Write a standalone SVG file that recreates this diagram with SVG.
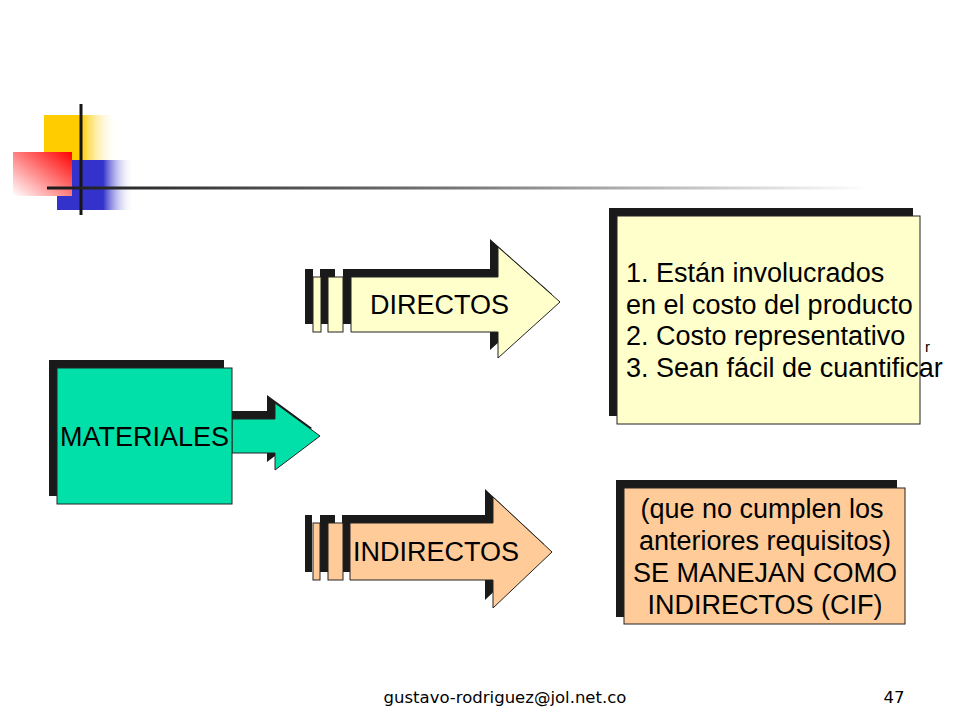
<svg xmlns="http://www.w3.org/2000/svg" width="960" height="720" viewBox="0 0 960 720">
<defs>
<linearGradient id="gYellow" x1="0" y1="0" x2="1" y2="0">
<stop offset="0" stop-color="#FFCC00"/><stop offset="0.5" stop-color="#FFCC00"/><stop offset="1" stop-color="#FFFFFF" stop-opacity="0"/>
</linearGradient>
<linearGradient id="gBlue" x1="0" y1="0" x2="1" y2="0">
<stop offset="0" stop-color="#3333CC"/><stop offset="0.6" stop-color="#3333CC"/><stop offset="1" stop-color="#FFFFFF" stop-opacity="0"/>
</linearGradient>
<linearGradient id="gRed" x1="1" y1="0" x2="0" y2="1">
<stop offset="0" stop-color="#FF0000"/><stop offset="1" stop-color="#FFFFFF"/>
</linearGradient>
<linearGradient id="gLine" x1="0" y1="0" x2="1" y2="0">
<stop offset="0" stop-color="#1A1A1A"/><stop offset="0.5" stop-color="#777777"/><stop offset="1" stop-color="#FFFFFF"/>
</linearGradient>
</defs>
<style>
.sh{fill:#1A1A1A;stroke:none}
.ln{stroke:#222;stroke-width:1}
.t{font-family:"Liberation Sans",Arial,sans-serif;font-size:27px;fill:#000}
.ft{font-family:"DejaVu Sans",Tahoma,sans-serif;font-size:16.5px;fill:#000}
</style>
<rect width="960" height="720" fill="#FFFFFF"/>

<g id="logo">
<rect x="44" y="115" width="74" height="46" fill="url(#gYellow)"/>
<rect x="57" y="160" width="77" height="50" fill="url(#gBlue)"/>
<rect x="13" y="152" width="59" height="44" fill="url(#gRed)"/>
<line x1="81" y1="104" x2="81" y2="215" stroke="#151515" stroke-width="3"/>
<rect x="47" y="186.5" width="823" height="3" fill="url(#gLine)"/>
</g>

<g id="materiales">
<g class="sh" transform="translate(-8,-8)">
<rect x="57" y="368" width="175" height="136"/>
<polygon points="232,419 275,419 275,403 320,436 275,470 275,453 232,453"/>
</g>
<polygon class="ln" fill="#00E0A8" points="232,419 275,419 275,403 320,436 275,470 275,453 232,453"/>
<rect class="ln" x="57" y="368" width="175" height="136" fill="#00E0A8"/>
<text class="t" x="60" y="446">MATERIALES</text>
</g>

<g id="directos">
<g class="sh" transform="translate(-8,-8)">
<rect x="313" y="277" width="8" height="55"/>
<rect x="328" y="277" width="15" height="55"/>
<polygon points="351,277 498,277 498,247 560,302 498,358 498,332 351,332"/>
</g>
<g fill="#FFFFCC" class="ln">
<rect x="313" y="277" width="8" height="55"/>
<rect x="328" y="277" width="15" height="55"/>
<polygon points="351,277 498,277 498,247 560,302 498,358 498,332 351,332"/>
</g>
<text class="t" x="370" y="314">DIRECTOS</text>
</g>

<g id="indirectos">
<g class="sh" transform="translate(-8,-8)">
<rect x="313" y="523" width="7" height="57"/>
<rect x="328" y="523" width="15" height="57"/>
<polygon points="350,523 493,523 493,497 552,552 493,608 493,580 350,580"/>
</g>
<g fill="#FFCC99" class="ln">
<rect x="313" y="523" width="7" height="57"/>
<rect x="328" y="523" width="15" height="57"/>
<polygon points="350,523 493,523 493,497 552,552 493,608 493,580 350,580"/>
</g>
<text class="t" x="353" y="561">INDIRECTOS</text>
</g>

<g id="requisitos">
<rect class="sh" x="609" y="208" width="304" height="208"/>
<rect class="ln" x="617" y="216" width="303" height="208" fill="#FFFFCC"/>
<text class="t" x="626" y="282">1. Están involucrados</text>
<text class="t" x="626" y="314">en el costo del producto</text>
<text class="t" x="626" y="345">2. Costo representativo</text>
<text class="t" x="626" y="377">3. Sean fácil de cuantificar</text>
<text x="925" y="352" style="font-family:'Liberation Sans',Arial,sans-serif;font-size:15px;fill:#000">r</text>
</g>

<g id="cif">
<rect class="sh" x="616" y="480" width="281" height="137"/>
<rect class="ln" x="624" y="488" width="281" height="136" fill="#FFCC99"/>
<g class="t" text-anchor="middle">
<text x="762" y="518">(que no cumplen los</text>
<text x="765" y="550">anteriores requisitos)</text>
<text x="765" y="582">SE MANEJAN COMO</text>
<text x="765" y="614">INDIRECTOS (CIF)</text>
</g>
</g>

<g id="connectors"></g>

<g id="footer">
<text class="ft" x="505" y="703" text-anchor="middle">gustavo-rodriguez@jol.net.co</text>
<text class="ft" x="894" y="703" text-anchor="middle">47</text>
</g>
</svg>
